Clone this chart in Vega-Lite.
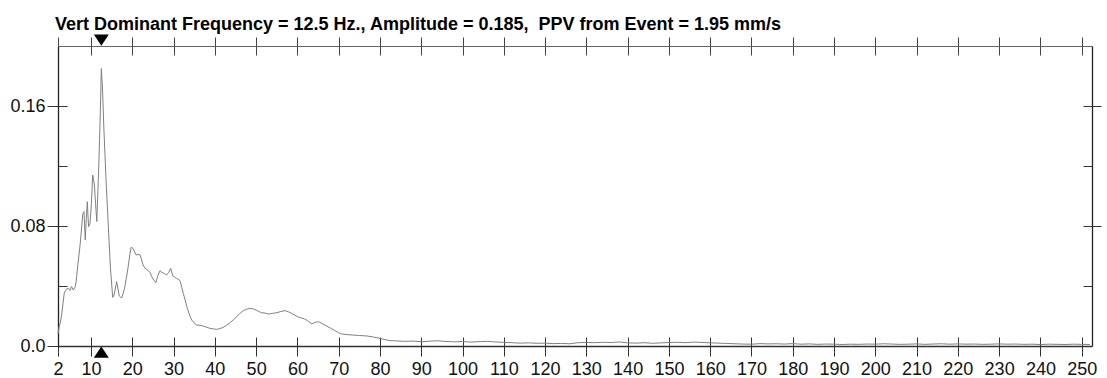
{
  "$schema": "https://vega.github.io/schema/vega-lite/v6.json",
  "width": 1034,
  "height": 300,
  "autosize": {"type": "none"},
  "padding": {"left": 58, "top": 46, "right": 15, "bottom": 32},
  "background": "white",
  "config": {"view": {"stroke": null}, "font": "Liberation Sans"},
  "title": {
    "text": "Vert Dominant Frequency = 12.5 Hz., Amplitude = 0.185,\u00a0 PPV from Event = 1.95 mm/s",
    "anchor": "start",
    "frame": "group",
    "dx": -3,
    "dy": 20,
    "offset": 6,
    "baseline": "alphabetic",
    "font": "Liberation Sans",
    "fontSize": 18,
    "fontWeight": "bold",
    "color": "#000000"
  },
  "datasets": {
    "spectrum": [
      {"freq": 2.0, "amp": 0.008}, {"freq": 2.3, "amp": 0.013}, {"freq": 2.6, "amp": 0.016}, {"freq": 2.9, "amp": 0.021},
      {"freq": 3.2, "amp": 0.028}, {"freq": 3.5, "amp": 0.035}, {"freq": 3.8, "amp": 0.037}, {"freq": 4.1, "amp": 0.038},
      {"freq": 4.5, "amp": 0.0385}, {"freq": 4.9, "amp": 0.037}, {"freq": 5.3, "amp": 0.0396}, {"freq": 5.7, "amp": 0.0373},
      {"freq": 6.1, "amp": 0.039}, {"freq": 6.4, "amp": 0.043}, {"freq": 6.8, "amp": 0.054}, {"freq": 7.3, "amp": 0.066},
      {"freq": 7.7, "amp": 0.078}, {"freq": 8.0, "amp": 0.088}, {"freq": 8.3, "amp": 0.0896}, {"freq": 8.6, "amp": 0.0707},
      {"freq": 8.85, "amp": 0.085}, {"freq": 9.1, "amp": 0.0962}, {"freq": 9.4, "amp": 0.0796}, {"freq": 9.75, "amp": 0.0818},
      {"freq": 10.1, "amp": 0.095}, {"freq": 10.4, "amp": 0.114}, {"freq": 10.8, "amp": 0.108}, {"freq": 11.1, "amp": 0.095},
      {"freq": 11.4, "amp": 0.083}, {"freq": 11.85, "amp": 0.118}, {"freq": 12.2, "amp": 0.15}, {"freq": 12.5, "amp": 0.185},
      {"freq": 12.8, "amp": 0.17}, {"freq": 13.1, "amp": 0.146}, {"freq": 13.6, "amp": 0.113}, {"freq": 14.2, "amp": 0.0796},
      {"freq": 14.7, "amp": 0.052}, {"freq": 15.25, "amp": 0.0324}, {"freq": 15.6, "amp": 0.034}, {"freq": 16.2, "amp": 0.0429},
      {"freq": 16.85, "amp": 0.0333}, {"freq": 17.4, "amp": 0.032}, {"freq": 17.8, "amp": 0.035}, {"freq": 18.2, "amp": 0.0396},
      {"freq": 18.6, "amp": 0.046}, {"freq": 19.0, "amp": 0.0529}, {"freq": 19.4, "amp": 0.061}, {"freq": 19.7, "amp": 0.0658},
      {"freq": 20.25, "amp": 0.0649}, {"freq": 20.9, "amp": 0.0607}, {"freq": 21.4, "amp": 0.061}, {"freq": 21.9, "amp": 0.0607},
      {"freq": 22.2, "amp": 0.058}, {"freq": 22.6, "amp": 0.054}, {"freq": 23.1, "amp": 0.0518}, {"freq": 23.5, "amp": 0.051},
      {"freq": 23.9, "amp": 0.0502}, {"freq": 24.3, "amp": 0.049}, {"freq": 24.7, "amp": 0.0462}, {"freq": 25.2, "amp": 0.044},
      {"freq": 25.7, "amp": 0.0422}, {"freq": 26.2, "amp": 0.047}, {"freq": 26.7, "amp": 0.0502}, {"freq": 27.2, "amp": 0.049},
      {"freq": 27.7, "amp": 0.0484}, {"freq": 28.3, "amp": 0.0473}, {"freq": 28.8, "amp": 0.049}, {"freq": 29.3, "amp": 0.0518},
      {"freq": 29.8, "amp": 0.0467}, {"freq": 30.2, "amp": 0.046}, {"freq": 30.7, "amp": 0.0451}, {"freq": 31.1, "amp": 0.0445},
      {"freq": 31.55, "amp": 0.0436}, {"freq": 32.0, "amp": 0.039}, {"freq": 32.35, "amp": 0.0351}, {"freq": 32.8, "amp": 0.0307},
      {"freq": 33.2, "amp": 0.0262}, {"freq": 34.0, "amp": 0.0196}, {"freq": 34.4, "amp": 0.0173}, {"freq": 35.2, "amp": 0.0147},
      {"freq": 35.6, "amp": 0.014}, {"freq": 36.4, "amp": 0.0138}, {"freq": 37.2, "amp": 0.0133}, {"freq": 38.0, "amp": 0.0125},
      {"freq": 38.8, "amp": 0.0118}, {"freq": 39.6, "amp": 0.0114}, {"freq": 40.4, "amp": 0.0111}, {"freq": 41.2, "amp": 0.0116},
      {"freq": 42.0, "amp": 0.0124}, {"freq": 42.8, "amp": 0.0138}, {"freq": 43.7, "amp": 0.0155}, {"freq": 44.5, "amp": 0.0175},
      {"freq": 45.3, "amp": 0.0196}, {"freq": 46.1, "amp": 0.0218}, {"freq": 46.9, "amp": 0.0236}, {"freq": 47.7, "amp": 0.0245},
      {"freq": 48.5, "amp": 0.0251}, {"freq": 49.1, "amp": 0.0248}, {"freq": 49.7, "amp": 0.0244}, {"freq": 50.5, "amp": 0.0232},
      {"freq": 51.3, "amp": 0.0222}, {"freq": 52.1, "amp": 0.022}, {"freq": 52.9, "amp": 0.0213}, {"freq": 54.0, "amp": 0.0218},
      {"freq": 55.0, "amp": 0.0222}, {"freq": 56.0, "amp": 0.023}, {"freq": 57.0, "amp": 0.0236}, {"freq": 57.8, "amp": 0.0228},
      {"freq": 58.6, "amp": 0.0218}, {"freq": 59.4, "amp": 0.0205}, {"freq": 60.2, "amp": 0.0193}, {"freq": 61.0, "amp": 0.0186},
      {"freq": 61.8, "amp": 0.018}, {"freq": 62.6, "amp": 0.0165}, {"freq": 63.5, "amp": 0.0147}, {"freq": 64.3, "amp": 0.0158},
      {"freq": 65.1, "amp": 0.0162}, {"freq": 66.1, "amp": 0.0148}, {"freq": 67.1, "amp": 0.0133}, {"freq": 68.1, "amp": 0.0118},
      {"freq": 69.1, "amp": 0.0102}, {"freq": 69.9, "amp": 0.009}, {"freq": 70.7, "amp": 0.008}, {"freq": 72.0, "amp": 0.0076},
      {"freq": 73.5, "amp": 0.0073}, {"freq": 75.0, "amp": 0.007}, {"freq": 76.8, "amp": 0.0067}, {"freq": 78.4, "amp": 0.006},
      {"freq": 80.0, "amp": 0.0051}, {"freq": 81.2, "amp": 0.0043}, {"freq": 82.4, "amp": 0.0036}, {"freq": 84, "amp": 0.0034},
      {"freq": 86, "amp": 0.0031}, {"freq": 88, "amp": 0.0033}, {"freq": 90, "amp": 0.0028}, {"freq": 92, "amp": 0.0032},
      {"freq": 94, "amp": 0.0035}, {"freq": 96, "amp": 0.003}, {"freq": 98, "amp": 0.0028}, {"freq": 100, "amp": 0.003},
      {"freq": 102, "amp": 0.0026}, {"freq": 104, "amp": 0.0029}, {"freq": 106, "amp": 0.0031}, {"freq": 108, "amp": 0.0027},
      {"freq": 110, "amp": 0.0024}, {"freq": 112, "amp": 0.0022}, {"freq": 114, "amp": 0.0019}, {"freq": 116, "amp": 0.0021},
      {"freq": 118, "amp": 0.0018}, {"freq": 120, "amp": 0.0019}, {"freq": 122, "amp": 0.0016}, {"freq": 124, "amp": 0.0017},
      {"freq": 126, "amp": 0.0015}, {"freq": 128, "amp": 0.0022}, {"freq": 130, "amp": 0.0024}, {"freq": 132, "amp": 0.0022},
      {"freq": 134, "amp": 0.0025}, {"freq": 136, "amp": 0.0023}, {"freq": 138, "amp": 0.0027}, {"freq": 140, "amp": 0.0021},
      {"freq": 142, "amp": 0.0019}, {"freq": 144, "amp": 0.0022}, {"freq": 146, "amp": 0.0018}, {"freq": 148, "amp": 0.0021},
      {"freq": 150, "amp": 0.0023}, {"freq": 152, "amp": 0.0025}, {"freq": 154, "amp": 0.0022}, {"freq": 156, "amp": 0.0026},
      {"freq": 158, "amp": 0.0024}, {"freq": 160, "amp": 0.0021}, {"freq": 162, "amp": 0.0019}, {"freq": 164, "amp": 0.0017},
      {"freq": 166, "amp": 0.0015}, {"freq": 168, "amp": 0.0013}, {"freq": 170, "amp": 0.0012}, {"freq": 172, "amp": 0.0016},
      {"freq": 174, "amp": 0.0014}, {"freq": 176, "amp": 0.0015}, {"freq": 178, "amp": 0.0013}, {"freq": 180, "amp": 0.0016},
      {"freq": 182, "amp": 0.0012}, {"freq": 184, "amp": 0.0014}, {"freq": 186, "amp": 0.0011}, {"freq": 188, "amp": 0.0013},
      {"freq": 190, "amp": 0.0012}, {"freq": 192, "amp": 0.001}, {"freq": 194, "amp": 0.0012}, {"freq": 196, "amp": 0.0011},
      {"freq": 198, "amp": 0.0013}, {"freq": 200, "amp": 0.0012}, {"freq": 202, "amp": 0.0015}, {"freq": 204, "amp": 0.0013},
      {"freq": 206, "amp": 0.0011}, {"freq": 208, "amp": 0.0012}, {"freq": 210, "amp": 0.0014}, {"freq": 212, "amp": 0.0011},
      {"freq": 214, "amp": 0.0013}, {"freq": 216, "amp": 0.0015}, {"freq": 218, "amp": 0.0012}, {"freq": 220, "amp": 0.0014},
      {"freq": 222, "amp": 0.0012}, {"freq": 224, "amp": 0.0013}, {"freq": 226, "amp": 0.0011}, {"freq": 228, "amp": 0.0012},
      {"freq": 230, "amp": 0.0014}, {"freq": 232, "amp": 0.0012}, {"freq": 234, "amp": 0.0013}, {"freq": 236, "amp": 0.0011},
      {"freq": 238, "amp": 0.0012}, {"freq": 240, "amp": 0.001}, {"freq": 242, "amp": 0.0012}, {"freq": 244, "amp": 0.0011},
      {"freq": 246, "amp": 0.001}, {"freq": 248, "amp": 0.0012}, {"freq": 250, "amp": 0.0011}, {"freq": 252, "amp": 0.001}
    ],
    "markers": [
      {"freq": 12.5, "edge": "top", "amp": 0.2},
      {"freq": 12.5, "edge": "bottom", "amp": 0}
    ]
  },
  "layer": [
    {
      "data": {"name": "spectrum"},
      "mark": {"type": "line", "stroke": "#808080", "strokeWidth": 1},
      "encoding": {
        "x": {
          "field": "freq", "type": "quantitative",
          "scale": {"domain": [2, 252.5], "nice": false, "zero": false},
          "axis": {
            "orient": "bottom", "title": null, "grid": false,
            "values": [2, 10, 20, 30, 40, 50, 60, 70, 80, 90, 100, 110, 120, 130, 140, 150, 160, 170, 180, 190, 200, 210, 220, 230, 240, 250],
            "tickSize": 10, "tickColor": "#333333", "tickWidth": 1,
            "domainColor": "#333333", "domainWidth": 1.3,
            "labelFont": "Liberation Sans", "labelFontSize": 18, "labelColor": "#111111",
            "labelPadding": 4, "labelOverlap": false, "labelFlush": false, "labelBound": false
          }
        },
        "y": {
          "field": "amp", "type": "quantitative",
          "scale": {"domain": [0, 0.2], "nice": false},
          "axis": {
            "orient": "left", "title": null, "grid": false,
            "values": [0, 0.08, 0.16],
            "labelExpr": "datum.value == 0 ? '0.0' : format(datum.value, '.2f')",
            "tickSize": 11, "tickColor": "#333333", "tickWidth": 1,
            "domainColor": "#222222", "domainWidth": 1.3,
            "labelFont": "Liberation Sans", "labelFontSize": 18, "labelColor": "#111111",
            "labelPadding": 2, "labelOverlap": false, "labelFlush": false, "labelBound": false
          }
        }
      }
    },
    {
      "data": {"name": "spectrum"},
      "mark": {"type": "line", "opacity": 0},
      "encoding": {
        "x": {
          "field": "freq", "type": "quantitative",
          "axis": {
            "orient": "bottom", "title": null, "grid": false, "labels": false, "domain": false,
            "values": [10, 20, 30, 40, 50, 60, 70, 80, 90, 100, 110, 120, 130, 140, 150, 160, 170, 180, 190, 200, 210, 220, 230, 240, 250],
            "tickSize": -9, "tickColor": "#333333", "tickWidth": 1
          }
        },
        "y": {
          "field": "amp", "type": "quantitative",
          "axis": {
            "orient": "left", "title": null, "grid": false, "labels": false, "domain": false,
            "values": [0.04, 0.08, 0.12, 0.16],
            "tickSize": -9, "tickColor": "#333333", "tickWidth": 1
          }
        }
      }
    },
    {
      "data": {"name": "spectrum"},
      "mark": {"type": "line", "opacity": 0},
      "encoding": {
        "x": {
          "field": "freq", "type": "quantitative",
          "axis": {
            "orient": "top", "title": null, "grid": false, "labels": false,
            "values": [2, 10, 20, 30, 40, 50, 60, 70, 80, 90, 100, 110, 120, 130, 140, 150, 160, 170, 180, 190, 200, 210, 220, 230, 240, 250],
            "tickSize": 9, "tickColor": "#444444", "tickWidth": 1,
            "domainColor": "#666666", "domainWidth": 1.2
          }
        },
        "y": {
          "field": "amp", "type": "quantitative",
          "axis": {
            "orient": "right", "title": null, "grid": false, "labels": false,
            "values": [0.08, 0.16],
            "tickSize": 9, "tickColor": "#333333", "tickWidth": 1,
            "domainColor": "#222222", "domainWidth": 1.3
          }
        }
      }
    },
    {
      "data": {"name": "spectrum"},
      "mark": {"type": "line", "opacity": 0},
      "encoding": {
        "x": {
          "field": "freq", "type": "quantitative",
          "axis": {
            "orient": "top", "title": null, "grid": false, "labels": false, "domain": false,
            "values": [10, 20, 30, 40, 50, 60, 70, 80, 90, 100, 110, 120, 130, 140, 150, 160, 170, 180, 190, 200, 210, 220, 230, 240, 250],
            "tickSize": -9, "tickColor": "#444444", "tickWidth": 1
          }
        },
        "y": {
          "field": "amp", "type": "quantitative",
          "axis": {
            "orient": "right", "title": null, "grid": false, "labels": false, "domain": false,
            "values": [0.04, 0.08, 0.12, 0.16],
            "tickSize": -9, "tickColor": "#333333", "tickWidth": 1
          }
        }
      }
    },
    {
      "data": {"name": "markers"},
      "transform": [{"filter": "datum.edge == 'top'"}],
      "mark": {"type": "point", "shape": "M-1,-0.75L1,-0.75L0,0.75Z", "size": 225, "filled": true, "fill": "#000000", "strokeWidth": 0, "opacity": 1, "yOffset": -6},
      "encoding": {
        "x": {"field": "freq", "type": "quantitative", "axis": null},
        "y": {"field": "amp", "type": "quantitative", "axis": null}
      }
    },
    {
      "data": {"name": "markers"},
      "transform": [{"filter": "datum.edge == 'bottom'"}],
      "mark": {"type": "point", "shape": "M-1,0.75L1,0.75L0,-0.75Z", "size": 225, "filled": true, "fill": "#000000", "strokeWidth": 0, "opacity": 1, "yOffset": 6},
      "encoding": {
        "x": {"field": "freq", "type": "quantitative", "axis": null},
        "y": {"field": "amp", "type": "quantitative", "axis": null}
      }
    }
  ],
  "resolve": {"axis": {"x": "independent", "y": "independent"}}
}
